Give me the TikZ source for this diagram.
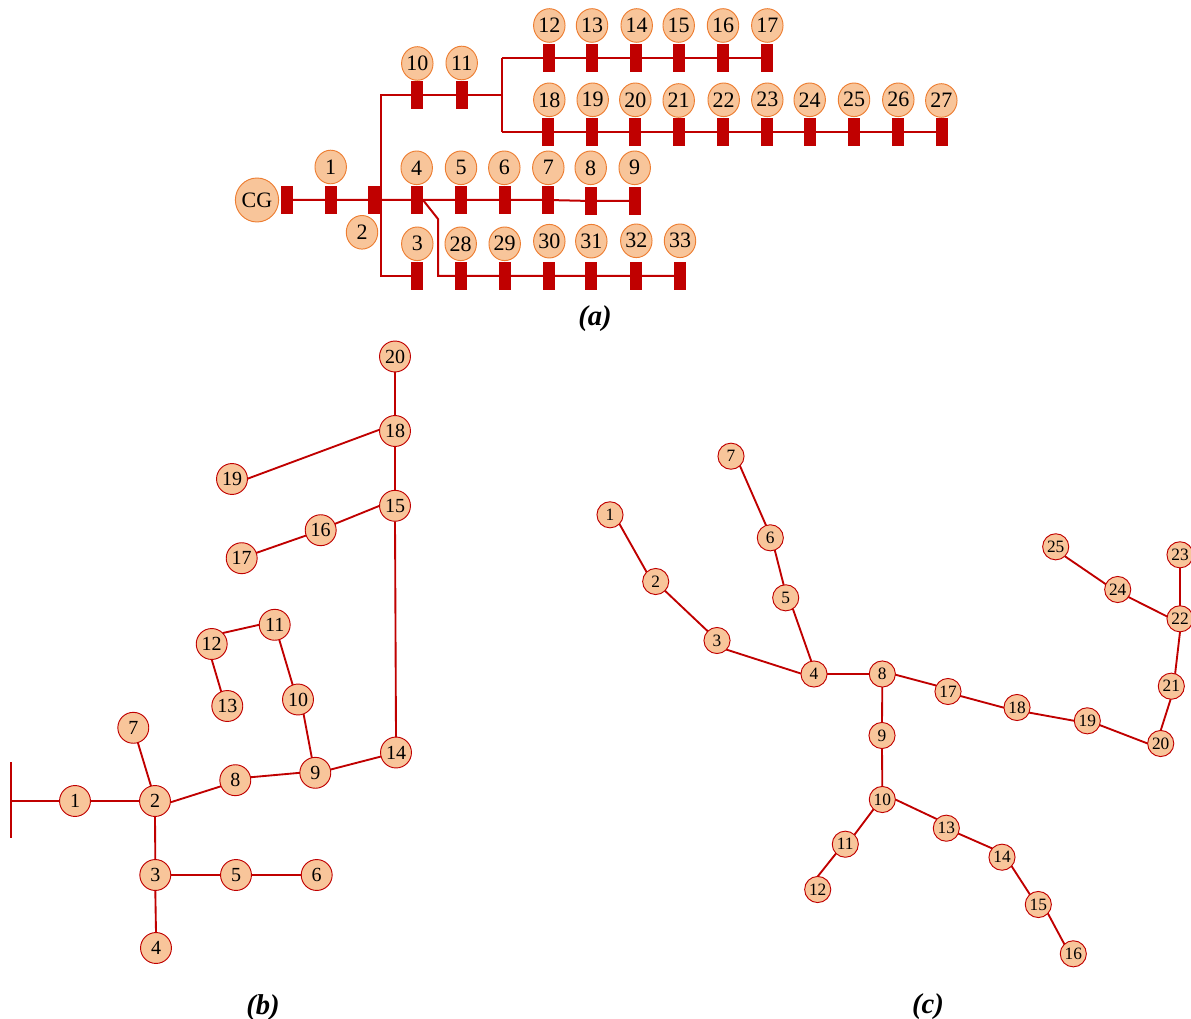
\documentclass[tikz,border=0pt]{standalone}
\usepackage{fontspec}
\usetikzlibrary{shapes.geometric}
\setmainfont{Liberation Serif}
\definecolor{busred}{HTML}{C00000}
\definecolor{peach}{HTML}{F8C59A}
\definecolor{rim}{HTML}{ED7D31}
\newcommand{\lowered}[1]{\raisebox{-0.6pt}{#1}}
\tikzset{
  every node/.style={inner sep=0pt,outer sep=0pt},
  bus/.style={draw=busred,line width=1.5pt},
  thinbus/.style={draw=busred,line width=1.4pt},
  busbar/.style={rectangle,fill=busred,minimum width=8.5pt,minimum height=21.2pt},
  acirc/.style={ellipse,draw=rim,fill=peach,line width=0.7pt,minimum width=23.6pt,minimum height=25.2pt,font=\fontsize{16.5}{16.5}\selectfont},
  bcirc/.style={circle,draw=busred,fill=peach,line width=0.7pt,minimum size=23.2pt,font=\fontsize{15}{15}\selectfont},
  ccirc/.style={circle,draw=busred,fill=peach,line width=0.7pt,minimum size=19.6pt,font=\fontsize{13}{13}\selectfont},
  caption/.style={font=\fontsize{21.5}{22}\selectfont\bfseries\itshape},
}
\begin{document}
\begin{tikzpicture}[x=0.75pt,y=-0.75pt]
\useasboundingbox (0,0) rectangle (1191,1019);
\clip (0,0) rectangle (1191,1019);
% ---------- (a) ----------
\node[acirc,minimum width=31pt,minimum height=33pt] (cg) at (257,200) {\lowered{CG}};
\node[busbar] (bcg) at (287,200) {};
\foreach \n/\x/\y in {1/331/200,3/417/276,4/417/200,5/461/200,6/505/200,7/548/200,8/591/201,9/635/201,
  10/417/95,11/462/95,12/549/58,13/592/58,14/636/58,15/679/58,16/723/58,17/767/58,
  18/548/132,19/592/132,20/635/132,21/679/132,22/723/132,23/767/132,24/810/132,25/854/132,26/898/132,27/942/132,
  28/461/276,29/505/276,30/549/276,31/591/276,32/636/276,33/680/276}
  \node[busbar] (b\n) at (\x,\y) {};
\node[busbar,minimum width=10pt] (b2) at (375,200) {};
\foreach \n/\x/\y in {1/330.7/167,2/362/232.3,3/417.3/243.8,4/416.7/167.8,5/461/167.8,6/504.3/167.8,7/548.3/167.8,8/590.7/167.8,9/634.7/167.8,
  10/417.3/63.5,11/461.7/63,12/549.3/25.5,13/592/25.5,14/636.7/25.5,15/678.7/25.5,16/723/25.5,17/767.3/25.5,
  18/549.3/99.8,19/592.7/99.8,20/635.3/99.8,21/678.7/100.5,22/723.7/99.8,23/767.3/99.8,24/809.7/99.8,25/854/99.8,26/898.3/99.8,27/941.3/100.5,
  28/460.7/243.8,29/504.7/243.8,30/549.3/241.2,31/591.3/241.2,32/636.3/240.8,33/680/240.8}
  \node[acirc] (a\n) at (\x,\y) {\lowered{\n}};
\coordinate (up) at (381,200);
\coordinate (upt) at (381,95);
\coordinate (dnb) at (381,276);
\coordinate (jn) at (502,95);
\coordinate (jt) at (502,58);
\coordinate (jb) at (502,132);
\coordinate (k0) at (423,200);
\coordinate (k1) at (438,219);
\coordinate (k2) at (438,276);
\draw[bus] (bcg) -- (b1) -- (b2) -- (b4) -- (b5) -- (b6) -- (b7) -- (b8) -- (b9);
\draw[bus] (up) -- (upt) -- (b10) -- (b11) -- (jn);
\draw[bus] (up) -- (dnb) -- (b3);
\draw[bus] (jt) -- (jb);
\draw[bus] (jt) -- (b12) -- (b13) -- (b14) -- (b15) -- (b16) -- (b17);
\draw[bus] (jb) -- (b18) -- (b19) -- (b20) -- (b21) -- (b22) -- (b23) -- (b24) -- (b25) -- (b26) -- (b27);
\draw[bus] (k0) -- (k1) -- (k2) -- (b28) -- (b29) -- (b30) -- (b31) -- (b32) -- (b33);
\node[caption] (capa) at (595,319) {(a)};
% ---------- (b) ----------
\foreach \n/\x/\y in {1/75/801,2/155/801,3/155.3/875,4/156/948,5/236/875,6/316.7/875,7/133.3/727.8,8/235.3/780.2,9/315.3/772.8,10/298/699.5,
  11/274.7/624.8,12/211.7/644,13/227.3/706,14/396/752.5,15/395/505.8,16/320.7/530.2,17/241.7/558.2,18/395/431,19/232/479,20/395/356.5}
  \node[bcirc] (m\n) at (\x,\y) {\lowered{\n}};
\coordinate (st) at (11,762);
\coordinate (sb) at (11,838);
\coordinate (sm) at (11,801);
\draw[thinbus] (st) -- (sb);
\draw[thinbus] (sm) -- (m1);
\foreach \p/\a/\q/\b in {1/0/2/180,2/-90/3/90,3/-90/4/90,3/0/5/180,5/0/6/180,7/-73/2/105,2/-5/8/203,8/11/9/180,9/103/10/-69,
  10/110/11/-73,12/45/11/180,12/-90/13/113,9/12/14/195,14/90/15/-90,16/24/15/180,17/20/16/200,18/-90/15/90,19/1/18/175,20/-90/18/90}
  \draw[thinbus] (m\p.\a) -- (m\q.\b);
\node[caption] (capb) at (263,1008) {(b)};
% ---------- (c) ----------
\foreach \n/\x/\y in {1/610/514.8,2/655.7/581.5,3/717/640.5,4/814/674,5/785.7/597.8,6/770.3/537.8,7/731/456.2,8/882.3/674,9/882/735.5,10/882.3/799.5,
  11/845.3/844.2,12/817.7/889.5,13/946.3/828.2,14/1002/857.2,15/1038.3/904.5,16/1073.3/953.8,17/948/691.5,18/1017/707.5,19/1087.3/720.8,20/1160.7/743.5,
  21/1171.3/686.2,22/1180/618.8,23/1180/554.8,24/1117.7/589.5,25/1055.7/546.8}
  \node[ccirc] (r\n) at (\x,\y) {\lowered{\n}};
\foreach \p/\a/\q/\b in {1/-44/2/134,2/-45/3/135,3/-44/4/178,4/102/5/-57,5/99/6/-70,6/109/7/-47,4/0/8/180,8/-90/9/90,9/-90/10/90,
  10/228/11/46,11/225/12/90,10/0/13/136,13/-24/14/138,14/-43/15/130,15/-43/16/133,
  8/-3/17/153,17/-20/18/181,18/-23/19/180,19/-19/20/180,20/90/21/-93,21/73/22/-90,22/90/23/-90,24/-35/22/170,24/156/25/-46}
  \draw[thinbus] (r\p.\a) -- (r\q.\b);
\node[caption] (capc) at (928,1007) {(c)};
\end{tikzpicture}
\end{document}
